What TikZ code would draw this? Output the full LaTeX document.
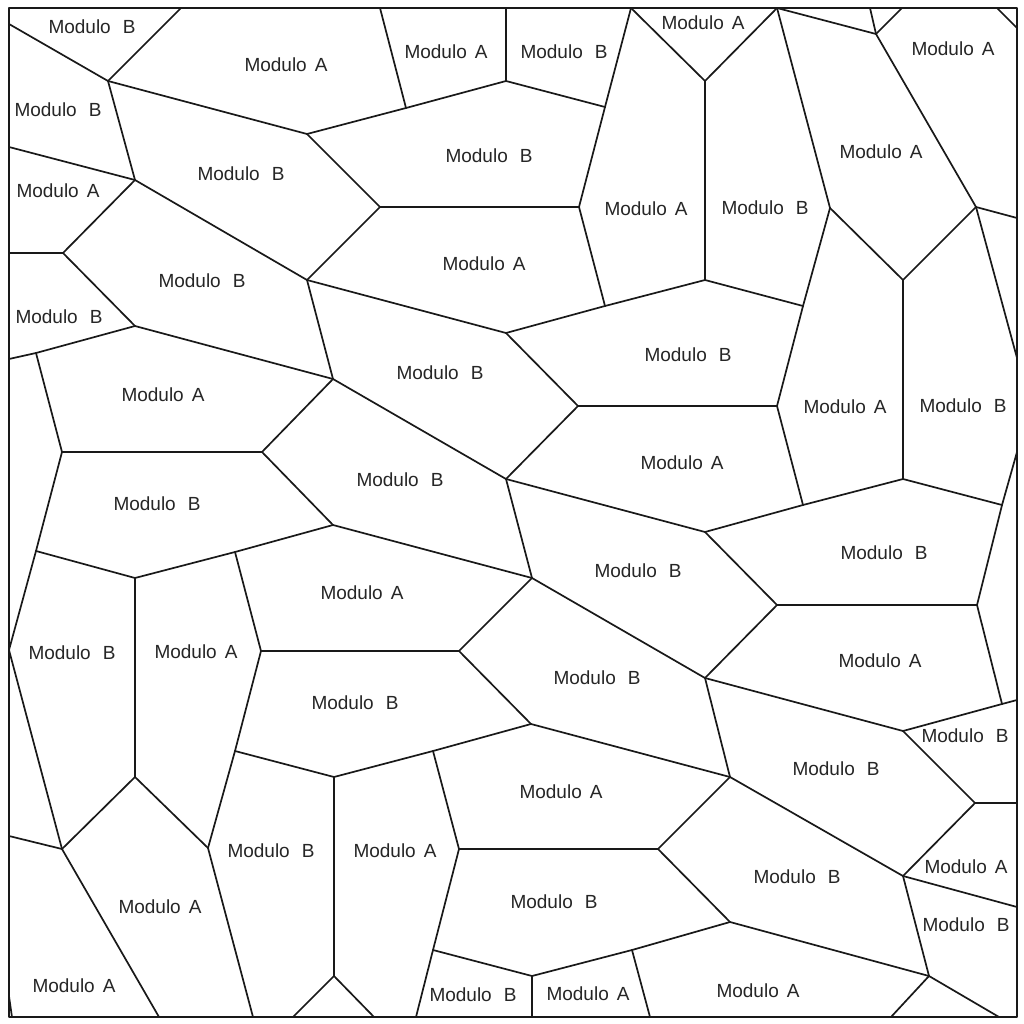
\documentclass[tikz,border=0pt]{standalone}
\usepackage{fontspec}
\setmainfont{Liberation Sans}
\newcommand{\MA}{Modulo\hspace{8pt}A}
\newcommand{\MB}{Modulo\hspace{12pt}B}
\begin{document}
\begin{tikzpicture}[x=1pt,y=-1pt,
  edge/.style={line width=1.7pt,line join=round,line cap=round,black!90},
  lab/.style={inner sep=0pt,font=\fontsize{19}{20}\selectfont,text=black!85}]
\useasboundingbox (0,0) rectangle (1024,1024);
\fill[white] (0,0) rectangle (1024,1024);
% border points
\coordinate (NW) at (9,8); \coordinate (NE) at (1017,8);
\coordinate (SW) at (9,1017); \coordinate (SE) at (1017,1017);
\coordinate (T1) at (181,8); \coordinate (T2) at (380,8); \coordinate (T3) at (506,8);
\coordinate (T4) at (631,8); \coordinate (T5) at (777,8); \coordinate (T6) at (870,8);
\coordinate (T7) at (902,8); \coordinate (T8) at (997,8);
\coordinate (L1) at (9,24); \coordinate (L2) at (9,147); \coordinate (L3) at (9,253);
\coordinate (L4) at (9,359); \coordinate (L5) at (9,650); \coordinate (L6) at (9,836);
\coordinate (L7) at (9,996);
\coordinate (R1) at (1017,28); \coordinate (R2) at (1017,218); \coordinate (R3) at (1017,358);
\coordinate (R4) at (1017,452); \coordinate (R5) at (1017,700); \coordinate (R6) at (1017,803);
\coordinate (R7) at (1017,907);
\coordinate (B0) at (12,1017); \coordinate (B1) at (159,1017); \coordinate (B2) at (253,1017);
\coordinate (B3) at (293,1017); \coordinate (B4) at (374,1017); \coordinate (B5) at (416,1017);
\coordinate (B6) at (532,1017); \coordinate (B7) at (650,1017); \coordinate (B8) at (891,1017);
\coordinate (B9) at (999,1017);
% inner vertices
\coordinate (v1) at (108,81); \coordinate (v2) at (135,180); \coordinate (v3) at (307,134);
\coordinate (v4) at (380,207); \coordinate (v5) at (406,108); \coordinate (v6) at (506,81);
\coordinate (v7) at (605,107); \coordinate (v8) at (579,207); \coordinate (v9) at (605,306);
\coordinate (v10) at (506,333); \coordinate (v11) at (307,280); \coordinate (v12) at (63,253);
\coordinate (v13) at (135,326); \coordinate (v14) at (333,379); \coordinate (v15) at (36,353);
\coordinate (v16) at (62,452); \coordinate (v17) at (262,452); \coordinate (v18) at (333,525);
\coordinate (v19) at (36,551); \coordinate (v20) at (135,578); \coordinate (v21) at (235,552);
\coordinate (v22) at (261,651); \coordinate (v23) at (459,651); \coordinate (v24) at (135,777);
\coordinate (v26) at (62,849); \coordinate (v27) at (208,848); \coordinate (v28) at (235,751);
\coordinate (v29) at (334,777); \coordinate (v30) at (334,976); \coordinate (v31) at (433,751);
\coordinate (v32) at (531,724); \coordinate (v33) at (459,849); \coordinate (v34) at (658,849);
\coordinate (v35) at (433,950); \coordinate (v36) at (532,976); \coordinate (v37) at (632,950);
\coordinate (v38) at (730,922); \coordinate (v39) at (730,777); \coordinate (v40) at (705,678);
\coordinate (v41) at (903,876); \coordinate (v42) at (975,803); \coordinate (v43) at (903,731);
\coordinate (v44) at (1002,704); \coordinate (v45) at (929,976); \coordinate (v46) at (777,605);
\coordinate (v47) at (977,605); \coordinate (v48) at (1002,505); \coordinate (v49) at (976,207);
\coordinate (v50) at (903,479); \coordinate (v51) at (903,280); \coordinate (v52) at (803,505);
\coordinate (v53) at (705,532); \coordinate (v54) at (777,406); \coordinate (v55) at (578,406);
\coordinate (v56) at (803,306); \coordinate (v57) at (830,208); \coordinate (v58) at (876,34);
\coordinate (v59) at (705,280); \coordinate (v60) at (705,81); \coordinate (v61) at (506,479);
\coordinate (v62) at (532,578);
% edges
\draw[edge] (NW) rectangle (SE);
\foreach \a/\b in {v1/T1,v1/L1,v1/v2,v2/L2,v1/v3,v3/v4,v3/v5,v5/T2,v5/v6,v6/T3,v6/v7,v7/T4,
  v7/v8,v4/v8,v8/v9,v9/v10,v2/v11,v4/v11,v11/v10,v2/v12,v12/L3,v12/v13,v13/v14,v11/v14,
  v13/v15,v15/L4,v15/v16,v16/v17,v14/v17,v17/v18,v16/v19,v19/v20,v20/v21,v21/v18,v21/v22,
  v22/v23,v20/v24,v19/L5,L5/v26,v26/L6,v24/v26,v24/v27,v22/v28,v28/v27,v28/v29,v29/v30,
  v30/B3,v30/B4,v27/B2,v26/B1,L7/B0,v29/v31,v31/v32,v31/v33,v33/v34,v23/v32,v33/v35,v35/B5,
  v35/v36,v36/B6,v36/v37,v37/B7,v37/v38,v34/v38,v34/v39,v32/v39,v39/v40,v39/v41,v41/v42,
  v42/R6,v42/v43,v43/v44,v44/R5,v43/v40,v41/R7,v41/v45,v45/B8,v45/B9,v38/v45,v40/v46,
  v46/v47,v47/v44,v47/v48,v48/R4,R3/v49,v48/v50,v50/v51,v50/v52,v52/v53,v53/v46,v52/v54,
  v54/v55,v54/v56,v56/v57,v57/T5,v57/v51,v51/v49,v49/R2,v49/v58,v58/T5,v58/T6,v58/T7,T8/R1,
  v56/v59,v59/v60,v60/T4,v60/T5,v59/v9,v10/v55,v55/v61,v61/v53,v14/v61,v61/v62,v18/v62,
  v62/v23,v62/v40}
  \draw[edge] (\a) -- (\b);
% labels
\node[lab] (m1) at (92,27) {\MB};
\node[lab] (m2) at (286,65) {\MA};
\node[lab] (m3) at (446,52) {\MA};
\node[lab] (m4) at (564,52) {\MB};
\node[lab] (m5) at (703,23) {\MA};
\node[lab] (m6) at (953,49) {\MA};
\node[lab] (m7) at (58,110) {\MB};
\node[lab] (m8) at (241,174) {\MB};
\node[lab] (m9) at (489,156) {\MB};
\node[lab] (m10) at (58,191) {\MA};
\node[lab] (m11) at (646,209) {\MA};
\node[lab] (m12) at (765,208) {\MB};
\node[lab] (m13) at (881,152) {\MA};
\node[lab] (m14) at (202,281) {\MB};
\node[lab] (m15) at (484,264) {\MA};
\node[lab] (m16) at (59,317) {\MB};
\node[lab] (m17) at (688,355) {\MB};
\node[lab] (m18) at (440,373) {\MB};
\node[lab] (m19) at (163,395) {\MA};
\node[lab] (m20) at (845,407) {\MA};
\node[lab] (m21) at (963,406) {\MB};
\node[lab] (m22) at (682,463) {\MA};
\node[lab] (m23) at (400,480) {\MB};
\node[lab] (m24) at (157,504) {\MB};
\node[lab] (m25) at (884,553) {\MB};
\node[lab] (m26) at (638,571) {\MB};
\node[lab] (m27) at (362,593) {\MA};
\node[lab] (m28) at (72,653) {\MB};
\node[lab] (m29) at (196,652) {\MA};
\node[lab] (m30) at (880,661) {\MA};
\node[lab] (m31) at (597,678) {\MB};
\node[lab] (m32) at (355,703) {\MB};
\node[lab] (m33) at (965,736) {\MB};
\node[lab] (m34) at (836,769) {\MB};
\node[lab] (m35) at (561,792) {\MA};
\node[lab] (m36) at (271,851) {\MB};
\node[lab] (m37) at (395,851) {\MA};
\node[lab] (m38) at (797,877) {\MB};
\node[lab] (m39) at (966,867) {\MA};
\node[lab] (m40) at (160,907) {\MA};
\node[lab] (m41) at (554,902) {\MB};
\node[lab] (m42) at (966,925) {\MB};
\node[lab] (m43) at (74,986) {\MA};
\node[lab] (m44) at (473,995) {\MB};
\node[lab] (m45) at (588,994) {\MA};
\node[lab] (m46) at (758,991) {\MA};
\end{tikzpicture}
\end{document}
